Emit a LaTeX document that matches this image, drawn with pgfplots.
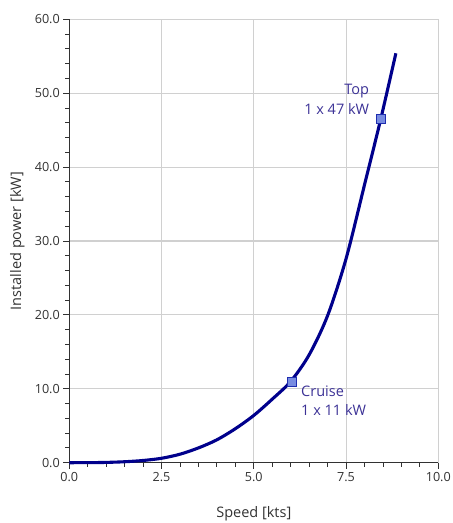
\documentclass[border=0pt]{standalone}
\usepackage{pgfplots}
\pgfplotsset{compat=1.18}
\usepackage{fontspec}
\setmainfont{Open Sans}

\definecolor{curveblue}{RGB}{0,0,140}
\definecolor{markfill}{RGB}{120,140,225}
\definecolor{markdraw}{RGB}{30,45,175}
\definecolor{annot}{RGB}{60,50,150}
\definecolor{gridgray}{RGB}{208,208,208}
\definecolor{axisgray}{RGB}{50,50,50}

\begin{document}
\begin{tikzpicture}
\begin{axis}[
  name=ax, at={(0,0)}, anchor=south west,
  scale only axis, width=369bp, height=443.4bp,
  xmin=0, xmax=10, ymin=0, ymax=60,
  axis lines*=left, axis line style={-, axisgray, line width=0.9bp},
  xtick={0,2.5,5,7.5,10}, ytick={0,10,20,30,40,50,60},
  minor x tick num=4, minor y tick num=4,
  tick align=outside, tick style={axisgray, line width=0.9bp},
  major tick length=6bp, minor tick length=4bp,
  grid=major, grid style={gridgray, line width=1.1bp},
  tick label style={font=\fontsize{12.6bp}{15bp}\selectfont, text=axisgray},
  /pgf/number format/.cd, fixed, zerofill, precision=1, assume math mode=true,
  /pgfplots/.cd,
  xlabel={Speed [kts]}, ylabel={Installed power [kW]},
  label style={font=\fontsize{14.5bp}{17bp}\selectfont, text=axisgray},
  xlabel style={at={(axis description cs:0.5,-0.1157)}, anchor=center},
  ylabel style={at={(axis description cs:-0.141,0.5)}, anchor=center, rotate=0},
  clip=false,
]
% power curve
\addplot [curveblue, line width=3.1bp, smooth, no marks] coordinates {
(0,0) (0.5,0.005) (1,0.04) (1.5,0.13) (2,0.3) (2.5,0.6) (3,1.15) (3.5,2.0)
(4,3.1) (4.5,4.6) (5,6.4) (5.5,8.6) (6,11.0) (6.5,14.6) (7,19.9) (7.5,27.6)
(8,37.6) (8.44,46.5) (8.85,55.4)
};
\addplot [only marks, mark=square*, mark size=4.5bp,
  mark options={fill=markfill, draw=markdraw, line width=1.3bp}]
  coordinates {(6.03,10.96) (8.44,46.5)};
\node [anchor=base east, inner sep=0, text=annot, font=\fontsize{14.5bp}{17bp}\selectfont]
  at (axis cs:8.13,49.85) {Top};
\node [anchor=base east, inner sep=0, text=annot, font=\fontsize{14.5bp}{17bp}\selectfont]
  at (axis cs:8.13,47.14) {1 x 47 kW};
\node [anchor=base west, inner sep=0, text=annot, font=\fontsize{14.5bp}{17bp}\selectfont]
  at (axis cs:6.28,8.93) {Cruise};
\node [anchor=base west, inner sep=0, text=annot, font=\fontsize{14.5bp}{17bp}\selectfont]
  at (axis cs:6.28,6.32) {1 x 11 kW};
\end{axis}
\pgfresetboundingbox
\path (-69.3bp,-60.3bp) rectangle (383.7bp,462.7bp);
\end{tikzpicture}
\end{document}
